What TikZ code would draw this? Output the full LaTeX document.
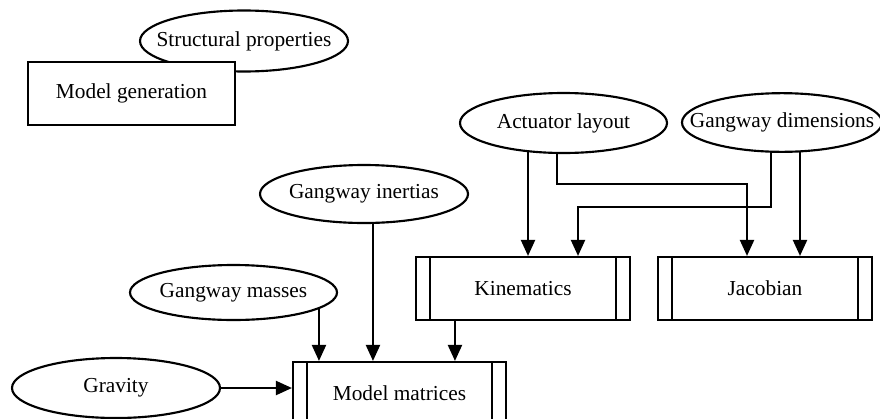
\documentclass[tikz,border=0pt]{standalone}
\usepackage{fontspec}
\setmainfont{Liberation Serif}
\usetikzlibrary{shapes.geometric,arrows.meta,backgrounds}
\tikzset{
    every node/.append style={font=\fontsize{16}{19}\selectfont},
    dataell/.style={ellipse, draw, line width=1.6pt, fill=white, inner sep=0pt, minimum width=155.25pt, minimum height=45pt},
    genbox/.style={rectangle, draw, line width=1.6pt, fill=white, minimum width=155.25pt, minimum height=47.25pt},
    procbox/.style={rectangle, draw, line width=1.6pt, fill=white, minimum width=160.5pt, minimum height=47.25pt,
        path picture={
            \draw[line width=1.6pt] ([xshift=10.5pt]path picture bounding box.north west) -- ([xshift=10.5pt]path picture bounding box.south west);
            \draw[line width=1.6pt] ([xshift=-10.5pt]path picture bounding box.north east) -- ([xshift=-10.5pt]path picture bounding box.south east);
        }},
    flow/.style={line width=1.6pt, -{Triangle[length=12pt,width=10.5pt]}}}
\newcommand{\inell}[1]{\makebox[0pt]{#1}}

\begin{document}
\begin{tikzpicture}[x=0.75pt, y=-0.75pt, line width=1.6pt]
    \useasboundingbox (0,0) rectangle (880,418);

    % inputs
    \node[dataell, minimum width=156pt, minimum height=45.75pt] (struct) at (244,41) {\inell{Structural properties}};
    \node[genbox] (gen) at (131.5,93.5) {Model generation};
    \node[dataell] (act) at (563.5,123) {\inell{Actuator layout}};
    \node[dataell, minimum width=150pt, minimum height=44pt] (dim) at (782,122.5) {\inell{Gangway dimensions}};
    \node[dataell, minimum width=156pt, minimum height=43.5pt] (inert) at (364,194) {\inell{Gangway inertias}};
    \node[dataell, minimum height=41.25pt] (mass) at (233.5,292.5) {\inell{Gangway masses}};
    \node[dataell, minimum width=156pt] (grav) at (116,388) {\inell{Gravity}};

    % processes
    \node[procbox] (kin) at (523,288.5) {Kinematics};
    \node[procbox] (jac) at (765,288.5) {Jacobian};
    \node[procbox, minimum width=159.75pt] (mm) at (399.5,393.5) {Model matrices};

    \coordinate (mm-in1) at ([xshift=-60.4pt]mm.north);
    \coordinate (mm-in2) at ([xshift=-19.9pt]mm.north);
    \coordinate (mm-in3) at ([xshift=41.6pt]mm.north);
    \coordinate (kin-in1) at ([xshift=3.75pt]kin.north);
    \coordinate (kin-in2) at ([xshift=41.25pt]kin.north);
    \coordinate (jac-in1) at ([xshift=-13.5pt]jac.north);
    \coordinate (jac-in2) at ([xshift=26.25pt]jac.north);

    \begin{scope}[on background layer]
        \draw[flow] (grav.center) -- (grav.center -| mm.west);
        \draw[flow] (mass.center -| mm-in1) -- (mm-in1);
        \draw[flow] (inert.center -| mm-in2) -- (mm-in2);
        \draw[flow] (kin.center -| mm-in3) -- (mm-in3);
        \draw[flow] (act.center -| kin-in1) -- (kin-in1);
        \draw[flow] (dim.center -| jac-in2) -- (jac-in2);
        \draw[flow] ([xshift=-4.9pt]act.center) |- ([xshift=-4.9pt,yshift=-22.5pt]act.south) -| (jac-in1);
        \draw[flow] ([xshift=-8.25pt]dim.center) |- ([xshift=-8.25pt,yshift=-40.5pt]dim.south) -| (kin-in2);
    \end{scope}
\end{tikzpicture}
\end{document}
